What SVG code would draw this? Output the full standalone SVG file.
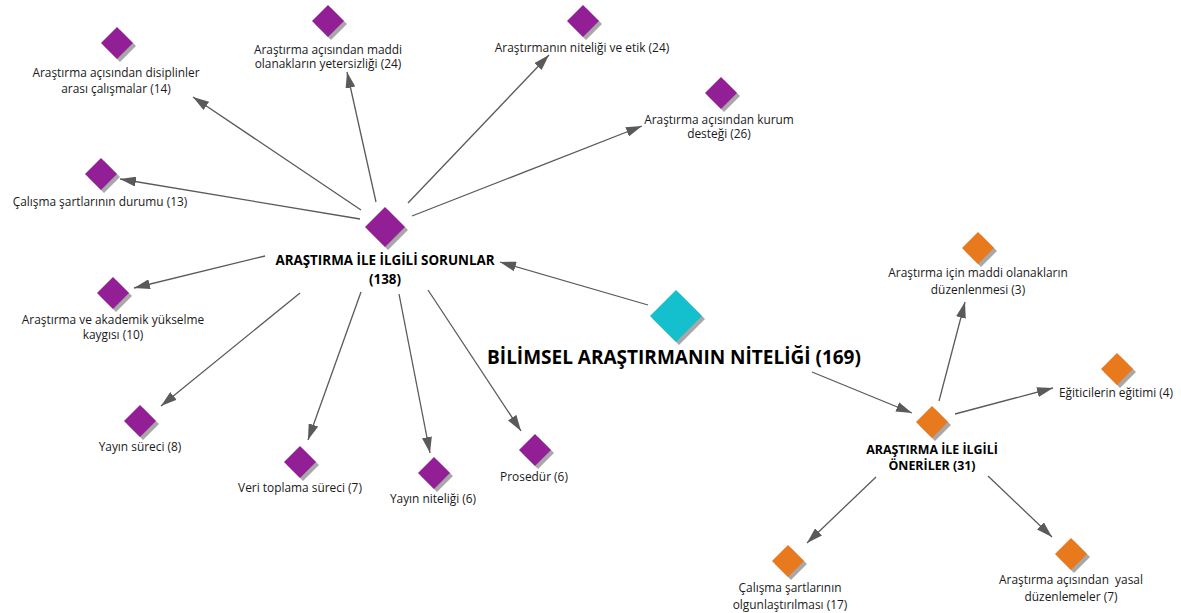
<svg xmlns="http://www.w3.org/2000/svg" xmlns:xlink="http://www.w3.org/1999/xlink" width="1181" height="613" viewBox="0 0 1181 613">
<style>
.t{font-family:"Open Sans","Noto Sans","DejaVu Sans",sans-serif;font-size:11.9px;fill:#1a1a1a;text-anchor:middle}
.b{font-family:"Open Sans","Noto Sans","DejaVu Sans",sans-serif;font-weight:bold;font-size:13.4px;fill:#000;text-anchor:middle}
.b2{font-family:"Open Sans","Noto Sans","DejaVu Sans",sans-serif;font-weight:bold;font-size:12.4px;fill:#000;text-anchor:middle}
.m{font-family:"Open Sans","Noto Sans","DejaVu Sans",sans-serif;font-weight:bold;font-size:19px;fill:#000;text-anchor:middle}
.sh{fill:#a8a8a8}
.p{fill:#931f97}
.o{fill:#e8791c}
.c{fill:#14c0ce}
.e{stroke:#5a5a5a;stroke-width:1.3;fill:none;marker-end:url(#ar)}
</style>
<defs>
<marker id="ar" viewBox="0 0 16 10" refX="16" refY="5" markerWidth="16" markerHeight="10" markerUnits="userSpaceOnUse" orient="auto">
<path d="M0,0 L16,5 L0,10 Z" fill="#5a5a5a"/>
</marker>
<path id="d16" d="M0,-16 L16,0 L0,16 L-16,0 Z"/>
<path id="d20" d="M0,-20 L20,0 L0,20 L-20,0 Z"/>
<path id="d26" d="M0,-26 L26,0 L0,26 L-26,0 Z"/>
</defs>
<rect width="1181" height="613" fill="#fff"/>
<g id="connectors">
<line class="e" x1="361" y1="210" x2="193" y2="97"/>
<line class="e" x1="376" y1="202" x2="347" y2="72"/>
<line class="e" x1="408" y1="203" x2="549" y2="55"/>
<line class="e" x1="412" y1="216" x2="642" y2="126"/>
<line class="e" x1="360" y1="219" x2="120" y2="179"/>
<line class="e" x1="265" y1="256" x2="134" y2="288"/>
<line class="e" x1="300" y1="293" x2="161" y2="406"/>
<line class="e" x1="361" y1="292" x2="308" y2="440"/>
<line class="e" x1="399" y1="294" x2="430" y2="453"/>
<line class="e" x1="428" y1="290" x2="521" y2="431"/>
<line class="e" x1="648" y1="305" x2="500" y2="262"/>
<line class="e" x1="812" y1="372" x2="912" y2="413"/>
<line class="e" x1="939" y1="401" x2="965" y2="302"/>
<line class="e" x1="955" y1="414" x2="1053" y2="388"/>
<line class="e" x1="876" y1="477" x2="807" y2="543"/>
<line class="e" x1="988" y1="476" x2="1052" y2="537"/>
</g>
<g id="n-main">
<use href="#d26" transform="translate(679,319)" class="sh"/>
<use href="#d26" transform="translate(676,316)" class="c"/>
<text class="m" x="674" y="364">BİLİMSEL ARAŞTIRMANIN NİTELİĞİ (169)</text>
</g>
<g id="n-sorunlar">
<use href="#d20" transform="translate(388,230)" class="sh"/>
<use href="#d20" transform="translate(385,227)" class="p"/>
<text class="b" x="385" y="265">ARAŞTIRMA İLE İLGİLİ SORUNLAR</text>
<text class="b" x="385" y="284">(138)</text>
</g>
<g id="n-oneriler">
<use href="#d16" transform="translate(935,425)" class="sh"/>
<use href="#d16" transform="translate(932,422)" class="o"/>
<text class="b2" x="932" y="454">ARAŞTIRMA İLE İLGİLİ</text>
<text class="b2" x="932" y="470">ÖNERİLER (31)</text>
</g>
<g id="n-disiplin">
<use href="#d16" transform="translate(120,46)" class="sh"/>
<use href="#d16" transform="translate(117,43)" class="p"/>
<text class="t" x="116" y="77">Araştırma açısından disiplinler</text>
<text class="t" x="116" y="93">arası çalışmalar (14)</text>
</g>
<g id="n-maddi">
<use href="#d16" transform="translate(331,24)" class="sh"/>
<use href="#d16" transform="translate(328,21)" class="p"/>
<text class="t" x="328" y="54">Araştırma açısından maddi</text>
<text class="t" x="328" y="68">olanakların yetersizliği (24)</text>
</g>
<g id="n-etik">
<use href="#d16" transform="translate(586,24)" class="sh"/>
<use href="#d16" transform="translate(583,21)" class="p"/>
<text class="t" x="582" y="52">Araştırmanın niteliği ve etik (24)</text>
</g>
<g id="n-kurum">
<use href="#d16" transform="translate(724,96)" class="sh"/>
<use href="#d16" transform="translate(721,93)" class="p"/>
<text class="t" x="719" y="124">Araştırma açısından kurum</text>
<text class="t" x="719" y="138">desteği (26)</text>
</g>
<g id="n-durum">
<use href="#d16" transform="translate(104,177)" class="sh"/>
<use href="#d16" transform="translate(101,174)" class="p"/>
<text class="t" x="100" y="206">Çalışma şartlarının durumu (13)</text>
</g>
<g id="n-akademik">
<use href="#d16" transform="translate(116,296)" class="sh"/>
<use href="#d16" transform="translate(113,293)" class="p"/>
<text class="t" x="113" y="324">Araştırma ve akademik yükselme</text>
<text class="t" x="113" y="339">kaygısı (10)</text>
</g>
<g id="n-yayinsureci">
<use href="#d16" transform="translate(143,424)" class="sh"/>
<use href="#d16" transform="translate(140,421)" class="p"/>
<text class="t" x="140" y="451">Yayın süreci (8)</text>
</g>
<g id="n-veri">
<use href="#d16" transform="translate(303,465)" class="sh"/>
<use href="#d16" transform="translate(300,462)" class="p"/>
<text class="t" x="300" y="492">Veri toplama süreci (7)</text>
</g>
<g id="n-yayinniteligi">
<use href="#d16" transform="translate(437,476)" class="sh"/>
<use href="#d16" transform="translate(434,473)" class="p"/>
<text class="t" x="433" y="503">Yayın niteliği (6)</text>
</g>
<g id="n-prosedur">
<use href="#d16" transform="translate(538,453)" class="sh"/>
<use href="#d16" transform="translate(535,450)" class="p"/>
<text class="t" x="534" y="481">Prosedür (6)</text>
</g>
<g id="n-maddiduzen">
<use href="#d16" transform="translate(981,251)" class="sh"/>
<use href="#d16" transform="translate(978,248)" class="o"/>
<text class="t" x="978" y="277">Araştırma için maddi olanakların</text>
<text class="t" x="978" y="294">düzenlenmesi (3)</text>
</g>
<g id="n-egitici">
<use href="#d16" transform="translate(1120,372)" class="sh"/>
<use href="#d16" transform="translate(1117,369)" class="o"/>
<text class="t" x="1116" y="397">Eğiticilerin eğitimi (4)</text>
</g>
<g id="n-olgun">
<use href="#d16" transform="translate(791,564)" class="sh"/>
<use href="#d16" transform="translate(788,561)" class="o"/>
<text class="t" x="790" y="592">Çalışma şartlarının</text>
<text class="t" x="790" y="609">olgunlaştırılması (17)</text>
</g>
<g id="n-yasal">
<use href="#d16" transform="translate(1074,557)" class="sh"/>
<use href="#d16" transform="translate(1071,554)" class="o"/>
<text class="t" x="1071" y="584" xml:space="preserve">Araştırma açısından  yasal</text>
<text class="t" x="1071" y="601">düzenlemeler (7)</text>
</g>
</svg>
